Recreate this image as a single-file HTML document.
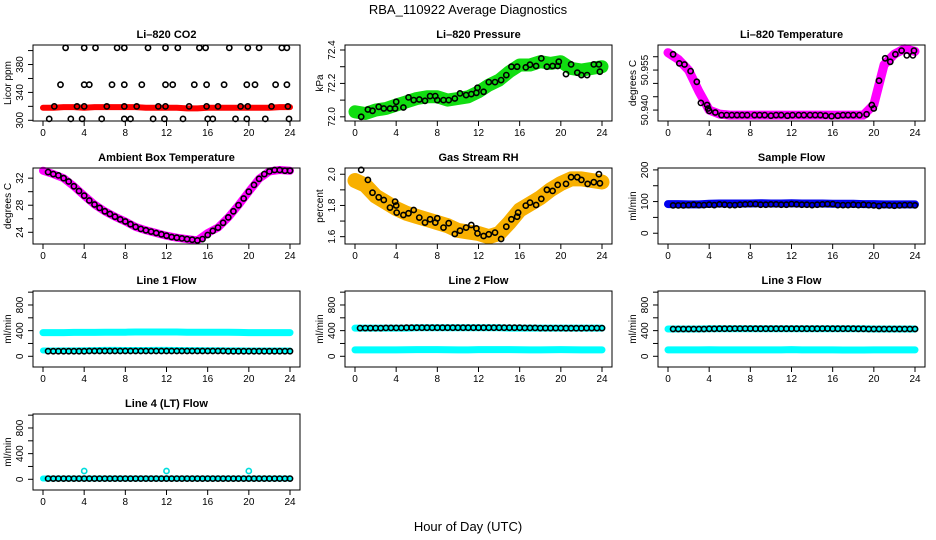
<!DOCTYPE html>
<html><head><meta charset="utf-8"><style>
html,body{margin:0;padding:0;background:#fff;}
svg{display:block;font-family:"Liberation Sans",Arial,sans-serif;}
</style></head><body>
<svg id="chart" width="936" height="540" viewBox="0 0 936 540">
<text x="468" y="14" text-anchor="middle" font-size="13">RBA_110922  Average Diagnostics</text>
<text x="468" y="531" text-anchor="middle" font-size="13">Hour of Day (UTC)</text>
</svg>
<script>
const hourly = [0,1,2,3,4,5,6,7,8,9,10,11,12,13,14,15,16,17,18,19,20,21,22,23,24];
const halfHours = [0.5,1,1.5,2,2.5,3,3.5,4,4.5,5,5.5,6,6.5,7,7.5,8,8.5,9,9.5,10,10.5,11,11.5,12,12.5,13,13.5,14,14.5,15,15.5,16,16.5,17,17.5,18,18.5,19,19.5,20,20.5,21,21.5,22,22.5,23,23.5,24];
const xTicks = [0,4,8,12,16,20,24];

// CO2
const co2Band = [318,318,319,319,318,319,319,319,319,319,318,318,318,318,317,317,318,318,318,318,318,318,318,319,319];
const co2Hours = [2.2,4.0,5.1,7.2,7.9,10.2,11.9,13.1,15.2,15.8,18.1,19.9,21.0,23.2,23.7, 1.7,4.0,4.5,6.7,7.9,9.6,11.9,12.6,14.7,15.9,17.6,19.8,20.6,22.6,23.7, 1.1,3.3,4.0,6.2,7.9,9.1,11.2,11.9,14.2,15.9,17.0,19.2,19.9,22.2,23.8, 0.6,2.7,3.8,5.7,7.9,8.5,10.7,11.8,13.6,16.0,16.5,18.7,19.8,21.6,23.9];
const co2Values = [404,404,404,404,404,404,404,404,404,404,404,404,404,404,404, 351,351,351,351,351,351,351,351,351,351,351,351,351,351,351, 320,320,320,320,320,320,320,320,320,320,320,320,320,320,320, 302,302,302,302,302,302,302,302,302,302,302,302,302,302,302];

// Pressure
const presBand = [72.03,72.02,72.04,72.05,72.07,72.09,72.11,72.12,72.12,72.10,72.11,72.12,72.15,72.19,72.22,72.27,72.31,72.31,72.33,72.32,72.33,72.29,72.28,72.29,72.30];
const presHours = [0.6,1.25,1.7,2.3,2.8,3.4,3.9,4.0,4.7,5.2,5.7,6.25,6.8,7.3,7.8,8.0,8.6,9.1,9.7,10.2,10.8,11.3,11.8,11.9,12.5,13.0,13.6,14.2,14.7,15.2,15.75,16.6,17.0,17.6,18.1,18.65,19.2,19.7,19.8,20.5,21.0,21.6,22.0,22.55,23.2,23.7,23.8];
const presValues = [72.0,72.044,72.036,72.06,72.05,72.05,72.05,72.09,72.056,72.116,72.1,72.104,72.096,72.124,72.124,72.1,72.1,72.1,72.11,72.14,72.13,72.136,72.144,72.174,72.15,72.208,72.208,72.22,72.25,72.30,72.30,72.296,72.312,72.304,72.35,72.30,72.304,72.304,72.33,72.256,72.314,72.264,72.25,72.25,72.314,72.314,72.27];

// Li-820 temperature
const tempBand = [50.9615,50.959,50.955,50.947,50.940,50.9385,50.9381,50.9381,50.9381,50.9381,50.9381,50.9381,50.9381,50.9381,50.9381,50.9381,50.9381,50.9381,50.9381,50.9381,50.942,50.957,50.961,50.963,50.962];
const tempHours = [0.5,1.1,1.6,2.2,2.8,3.2,3.8,3.9,4.0,4.6,5.2,5.7,6.2,6.7,7.2,7.7,8.4,8.9,9.4,10.0,10.5,11.0,11.6,12.1,12.7,13.2,13.8,14.3,14.8,15.3,15.9,16.5,17.0,17.5,18.0,18.6,19.3,19.8,20.0,20.5,21.1,21.6,22.1,22.7,23.2,23.8,23.9];
const tempValues = [50.9609,50.9575,50.9571,50.9546,50.9506,50.9427,50.9419,50.9406,50.9397,50.9391,50.9381,50.9381,50.9381,50.9381,50.9381,50.9381,50.9381,50.9381,50.9381,50.9379,50.9381,50.9381,50.9379,50.9381,50.9381,50.9381,50.9381,50.9381,50.9381,50.9379,50.9377,50.9379,50.9381,50.9381,50.9381,50.9381,50.9384,50.9419,50.9406,50.9510,50.9594,50.9581,50.9609,50.9623,50.9605,50.9605,50.9623];

// Ambient box temperature
const ambBand = [33.1,32.6,32.0,30.8,29.4,28.1,27.1,26.3,25.6,24.8,24.3,23.9,23.5,23.2,23.0,22.8,23.9,24.7,26.2,28.0,30.0,31.9,33.0,33.2,33.1];
const ambValues = [32.9,32.6,32.4,32.0,31.5,30.8,30.1,29.4,28.7,28.1,27.6,27.1,26.7,26.3,25.9,25.6,25.2,24.8,24.5,24.3,24.1,23.9,23.7,23.5,23.3,23.2,23.1,23.0,22.9,22.8,23.0,23.6,24.2,24.7,25.4,26.2,27.1,28.0,29.0,30.0,31.0,31.9,32.6,33.0,33.2,33.2,33.1,33.1];

// Gas stream RH
const rhBand = [1.96,1.93,1.86,1.82,1.78,1.75,1.73,1.71,1.69,1.67,1.64,1.63,1.62,1.60,1.62,1.69,1.77,1.81,1.85,1.90,1.94,1.97,1.97,1.96,1.95];
const rhHours = [0.6,1.25,1.7,2.3,2.8,3.4,3.9,4.0,4.05,4.7,5.2,5.7,6.25,6.8,7.3,7.8,8.0,8.6,9.1,9.7,10.2,10.8,11.3,11.8,11.9,12.5,13.0,13.6,14.2,14.7,15.2,15.75,15.85,16.6,17.0,17.6,18.1,18.65,19.2,19.7,20.5,21.0,21.6,22.0,22.6,23.2,23.7,23.8];
const rhValues = [2.028,1.964,1.882,1.852,1.835,1.786,1.825,1.80,1.754,1.739,1.75,1.771,1.722,1.69,1.711,1.69,1.718,1.658,1.686,1.617,1.638,1.658,1.675,1.653,1.621,1.604,1.615,1.626,1.585,1.664,1.711,1.728,1.754,1.799,1.818,1.803,1.842,1.90,1.893,1.932,1.938,1.981,1.981,1.964,1.938,1.949,2.0,1.942];

// Sample flow
const sampleBand = [92,92,91,91,93,94,94,94,94,95,94,94,95,94,94,94,93,93,93,92,92,91,91,91,91];
const sampleValues = [88,88,88,89,90,89,89,90,89,91,90,89,89,90,91,92,92,90,90,91,91,90,90,92,91,90,90,89,90,91,92,92,89,89,89,90,89,90,89,88,86,89,88,87,88,89,89,88];

// Line flows
const line1UpperBand = [370,370,370,372,372,372,374,376,376,378,378,378,378,378,376,376,376,374,374,372,370,370,370,370,370];
const line1LowerBand = [90,90,92,92,94,96,100,100,98,98,98,100,100,98,96,96,94,94,92,92,90,90,90,90,90];
const line1Values = [80,80,80,80,80,80,80,80,82,82,82,82,82,82,82,82,82,82,82,82,82,82,82,82,82,82,82,82,82,82,82,82,82,82,82,80,80,80,80,80,80,80,80,80,80,80,80,80];
const line2UpperBand = [440,440,440,440,440,440,445,445,445,445,445,445,445,445,445,440,440,440,440,440,440,440,440,440,440];
const line2LowerBand = [100,100,100,100,100,102,104,104,104,102,100,100,104,104,104,104,102,100,100,102,104,102,100,100,100];
const line2Values = [440,440,440,440,440,442,442,442,442,445,445,445,445,445,445,445,445,445,445,445,445,445,445,445,445,445,445,445,445,445,445,445,442,442,442,440,440,440,440,440,438,438,438,438,440,440,440,440];
const line3UpperBand = [425,425,425,425,430,430,430,430,430,430,430,430,430,430,430,430,430,430,430,428,425,425,425,425,425];
const line3LowerBand = [100,100,100,100,102,100,100,100,100,100,100,100,104,100,100,100,100,98,98,98,100,100,100,100,100];
const line3Values = [425,425,425,425,425,425,425,428,428,430,430,430,432,432,432,432,430,430,430,430,430,430,430,430,430,430,430,430,430,432,432,430,430,430,430,430,428,428,425,425,425,425,425,425,425,425,425,425];
const line4Band = [12,12,12,12,12,12,12,12,12,12,12,12,12,12,12,12,12,12,12,12,12,12,12,12,12];
const line4Values = [10,10,10,10,10,10,10,10,10,10,10,10,10,10,10,10,10,10,10,10,10,10,10,10,10,10,10,10,10,10,10,10,10,10,10,10,10,10,10,10,10,10,10,10,10,10,10,10];
const line4SpikeHours = [4,12,20];
const line4SpikeValues = [130,130,130];

const flowTicks = [0,200,400,600,800,1000];
const flowLabels = [0,400,800];

const panels = [
 {name:'co2', title:'Li\u2013820 CO2', ylab:'Licor ppm', col:0,row:0, ylim:[299,408], ticks:[300,320,340,360,380,400], labels:[300,340,380],
  bands:[{c:'#ff0000',w:6,h:hourly,v:co2Band}], circles:[{h:co2Hours,v:co2Values,c:'#000'}]},
 {name:'pressure', title:'Li\u2013820 Pressure', ylab:'kPa', col:1,row:0, ylim:[71.975,72.43], ticks:[72.0,72.1,72.2,72.3,72.4], labels:['72.0','72.2','72.4'],
  bands:[{c:'#11dd11',w:13,h:hourly,v:presBand}], circles:[{h:presHours,v:presValues,c:'#000'}]},
 {name:'li820-temperature', title:'Li\u2013820 Temperature', ylab:'degrees C', col:2,row:0, ylim:[50.9359,50.9644], ticks:[50.940,50.945,50.950,50.955,50.960], labels:['50.940','50.955'],
  bands:[{c:'#ff00ff',w:9,h:hourly,v:tempBand}], circles:[{h:tempHours,v:tempValues,c:'#000'}]},
 {name:'ambient-temperature', title:'Ambient Box Temperature', ylab:'degrees C', col:0,row:1, ylim:[22.27,33.5], ticks:[24,26,28,30,32], labels:[24,28,32],
  bands:[{c:'#ff00ff',w:8,h:hourly,v:ambBand}], circles:[{h:halfHours,v:ambValues,c:'#000'}]},
 {name:'gas-stream-rh', title:'Gas Stream RH', ylab:'percent', col:1,row:1, ylim:[1.553,2.04], ticks:[1.6,1.7,1.8,1.9,2.0], labels:['1.6','1.8','2.0'],
  bands:[{c:'#f8b000',w:15,h:hourly,v:rhBand}], circles:[{h:rhHours,v:rhValues,c:'#000'}]},
 {name:'sample-flow', title:'Sample Flow', ylab:'ml/min', col:2,row:1, ylim:[-34,206], ticks:[0,50,100,150,200], labels:[0,100,200],
  bands:[{c:'#0000ee',w:8,h:hourly,v:sampleBand}], circles:[{h:halfHours,v:sampleValues,c:'#000'}]},
 {name:'line1-flow', title:'Line 1 Flow', ylab:'ml/min', col:0,row:2, ylim:[-167,1018], ticks:flowTicks, labels:flowLabels,
  bands:[{c:'#00ffff',w:7,h:hourly,v:line1UpperBand},{c:'#00ffff',w:6,h:hourly,v:line1LowerBand}], circles:[{h:halfHours,v:line1Values,c:'#000'}]},
 {name:'line2-flow', title:'Line 2 Flow', ylab:'ml/min', col:1,row:2, ylim:[-167,1018], ticks:flowTicks, labels:flowLabels,
  bands:[{c:'#00ffff',w:7,h:hourly,v:line2UpperBand},{c:'#00ffff',w:7,h:hourly,v:line2LowerBand}], circles:[{h:halfHours,v:line2Values,c:'#000'}]},
 {name:'line3-flow', title:'Line 3 Flow', ylab:'ml/min', col:2,row:2, ylim:[-167,1018], ticks:flowTicks, labels:flowLabels,
  bands:[{c:'#00ffff',w:7,h:hourly,v:line3UpperBand},{c:'#00ffff',w:7,h:hourly,v:line3LowerBand}], circles:[{h:halfHours,v:line3Values,c:'#000'}]},
 {name:'line4-flow', title:'Line 4 (LT) Flow', ylab:'ml/min', col:0,row:3, ylim:[-167,1018], ticks:flowTicks, labels:flowLabels,
  bands:[{c:'#00ffff',w:6,h:hourly,v:line4Band}], circles:[{h:line4SpikeHours,v:line4SpikeValues,c:'#00dddd'},{h:halfHours,v:line4Values,c:'#000'}]}
];

const colLeft = [33,345,658], rowTop = [45,168,291,414], boxW = 267, boxH = 76;
const NS = 'http://www.w3.org/2000/svg';
const svg = document.getElementById('chart');
function mk(tag, attrs, parent){const e=document.createElementNS(NS,tag);for(const k in attrs)e.setAttribute(k,attrs[k]);(parent||svg).appendChild(e);return e;}

panels.forEach(p=>{
  const L=colLeft[p.col], T=rowTop[p.row], B=T+boxH, R=L+boxW;
  const xs = h => L+10 + h/24*247;
  const ys = v => B - (v-p.ylim[0])/(p.ylim[1]-p.ylim[0])*boxH;
  const g = mk('g',{});
  
  
  const t = mk('text',{x:(L+R)/2,y:T-7,'text-anchor':'middle','font-size':'11','font-weight':'bold'},g);
  t.textContent=p.title;
  
  
  // bands
  p.bands.forEach((b,bi)=>{
    const pts=b.h.map((h,i)=>xs(h).toFixed(1)+','+ys(b.v[i]).toFixed(1)).join(' ');
    const pl=mk('polyline',{points:pts,fill:'none',stroke:b.c,'stroke-width':b.w,'stroke-linejoin':'round','stroke-linecap':'round'},g);
    
    
  });
  p.circles.forEach(cs=>{
    cs.h.forEach((h,i)=>{
      const c=mk('circle',{cx:xs(h).toFixed(1),cy:ys(cs.v[i]).toFixed(1),r:2.6,fill:'none',stroke:cs.c,'stroke-width':1.6},g);
      
      
    });
  });
  const box=mk('rect',{x:L,y:T,width:boxW,height:boxH,fill:'none',stroke:'#000','stroke-width':1},g);
  
  
  // x axis
  const xa=mk('g',{},g);
  
  
  xTicks.forEach(tk=>{
    mk('line',{x1:xs(tk),x2:xs(tk),y1:B,y2:B+5,stroke:'#000'},xa);
    const tl=mk('text',{x:xs(tk),y:B+15,'text-anchor':'middle','font-size':'10'},xa);
    tl.textContent=tk;
  });
  // y axis
  const ya=mk('g',{},g);
  
  
  p.ticks.forEach(tk=>{
    mk('line',{x1:L-5,x2:L,y1:ys(tk),y2:ys(tk),stroke:'#000'},ya);
  });
  p.labels.forEach(lb=>{
    const y=ys(parseFloat(lb));
    const tl=mk('text',{x:L-10,y:y,'text-anchor':'middle','font-size':'10',transform:`rotate(-90 ${L-10} ${y})`},ya);
    tl.textContent=lb;
  });
  const yl=mk('text',{x:L-22,y:(T+B)/2,'text-anchor':'middle','font-size':'10',transform:`rotate(-90 ${L-22} ${(T+B)/2})`},g);
  yl.textContent=p.ylab;
  
  
});
</script>
</body></html>
